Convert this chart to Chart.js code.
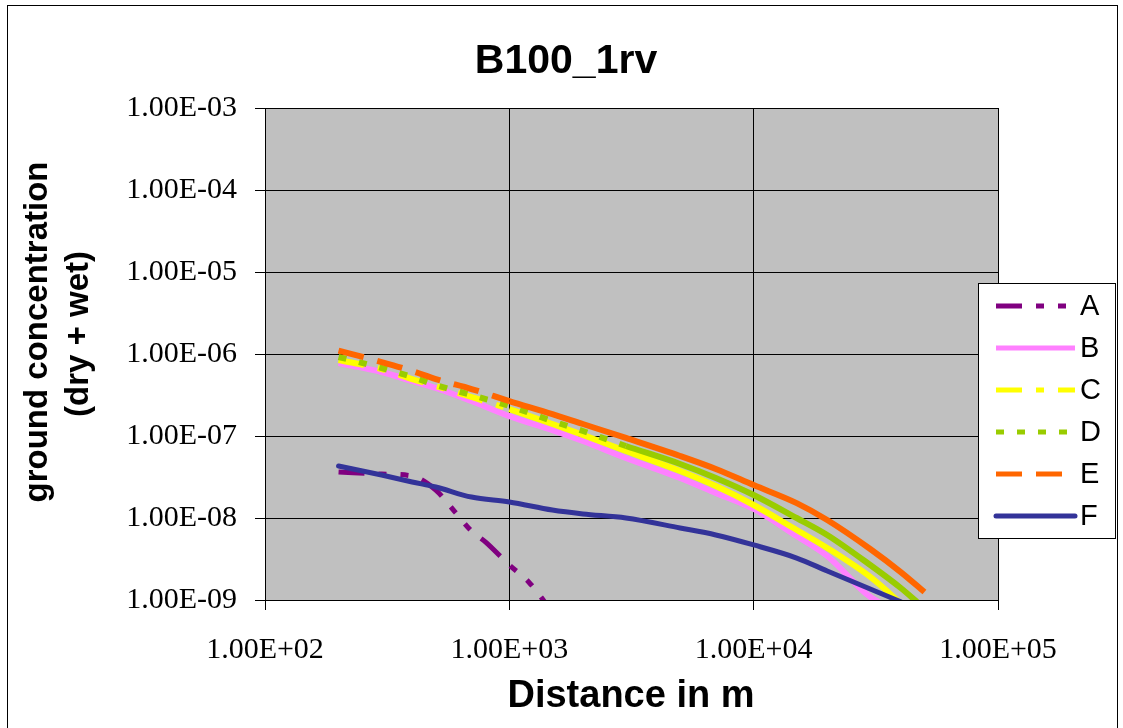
<!DOCTYPE html>
<html lang="en">
<head>
    <meta charset="UTF-8">
    <title>B100_1rv</title>
    <style>
        body {
            margin: 0;
            background: #ffffff;
        }
        canvas {
            display: block;
        }
    </style>
    <script src="https://cdn.jsdelivr.net/npm/chart.js"></script>
</head>
<body>

<canvas id="concChart" width="1123" height="728"></canvas>

<script>
    // distances (m)
    var distances = [200, 300, 400, 500, 700, 1000, 1500, 2000, 3000, 5000, 7000, 10000, 15000, 20000, 30000, 40000, 50000];
    var distancesA = [200, 300, 400, 500, 600, 700, 800, 1000, 1200, 1500];

    // ground concentration (dry + wet) per class
    var seriesA = [3.64e-8, 3.44e-8, 3.25e-8, 2.19e-8, 1.18e-8, 6.93e-9, 5.09e-9, 2.67e-9, 1.66e-9, 7.1e-10];
    var seriesB = [7.76e-7, 6.03e-7, 4.69e-7, 3.85e-7, 2.67e-7, 1.75e-7, 1.18e-7, 8.69e-8, 5.39e-8, 3.08e-8, 2.02e-8, 1.29e-8, 6.03e-9, 3.44e-9, 1.09e-9, 7.1e-10];
    var seriesC = [8.45e-7, 6.56e-7, 4.95e-7, 4.07e-7, 2.99e-7, 2.13e-7, 1.40e-7, 1.03e-7, 6.56e-8, 3.74e-8, 2.45e-8, 1.44e-8, 7.14e-9, 4.31e-9, 1.91e-9, 9.1e-10, 5.0e-10];
    var seriesD = [9.19e-7, 6.75e-7, 5.25e-7, 4.19e-7, 3.16e-7, 2.32e-7, 1.52e-7, 1.15e-7, 7.55e-8, 4.56e-8, 3.08e-8, 1.91e-8, 1.00e-8, 6.21e-9, 2.67e-9, 1.40e-9, 7.9e-10];
    var seriesE = [1.10e-6, 7.98e-7, 6.21e-7, 4.95e-7, 3.74e-7, 2.67e-7, 1.85e-7, 1.40e-7, 9.46e-8, 5.70e-8, 3.96e-8, 2.52e-8, 1.52e-8, 9.46e-9, 4.19e-9, 2.19e-9, 1.25e-9];
    var seriesF = [4.31e-8, 3.34e-8, 2.75e-8, 2.39e-8, 1.80e-8, 1.57e-8, 1.25e-8, 1.12e-8, 1.00e-8, 7.55e-9, 6.21e-9, 4.69e-9, 3.25e-9, 2.26e-9, 1.36e-9, 9.5e-10];

    var xTicks = [1e2, 1e3, 1e4, 1e5];
    var xTickLabels = ['1.00E+02', '1.00E+03', '1.00E+04', '1.00E+05'];
    var yTicks = [1e-9, 1e-8, 1e-7, 1e-6, 1e-5, 1e-4, 1e-3];
    var yTickLabels = ['1.00E-09', '1.00E-08', '1.00E-07', '1.00E-06', '1.00E-05', '1.00E-04', '1.00E-03'];

    function toPoints(xs, ys) {
        return ys.map(function (v, i) { return { x: xs[i], y: v }; });
    }

    // the dashes only show where the points are far apart, further out the line looks solid
    function makeSet(label, xs, ys, color, dash, dashUntil, width, order, cap) {
        return {
            label: label,
            data: toPoints(xs, ys),
            borderColor: color,
            backgroundColor: color,
            borderWidth: width,
            borderDash: dash,
            borderCapStyle: cap || 'butt',
            pointRadius: 0,
            cubicInterpolationMode: 'monotone',
            fill: false,
            clip: 0,
            order: order,
            segment: {
                borderDash: function (c) { return c.p0.parsed.x < dashUntil ? dash : []; }
            }
        };
    }

    var datasets = [
        makeSet('A', distancesA, seriesA, '#800080', [26, 14, 8, 14, 8, 14], 1e9, 5, 6),
        makeSet('B', distances, seriesB, '#FF80FF', [], 0, 6, 5),
        makeSet('C', distances, seriesC, '#FFFF00', [26, 14, 8, 14], 1000, 6, 4),
        makeSet('D', distances, seriesD, '#99CC00', [8, 13], 2500, 6, 3),
        makeSet('E', distances, seriesE, '#FF6600', [26, 14], 800, 6, 2),
        makeSet('F', distances, seriesF, '#333399', [], 0, 5, 1, 'round')
    ];

    // gray plot area, outer frame, titles and the boxed legend
    var decor = {
        id: 'decor',
        beforeDraw: function (chart) {
            var ctx = chart.ctx, a = chart.chartArea;
            ctx.save();
            ctx.fillStyle = '#ffffff';
            ctx.fillRect(0, 0, chart.width, chart.height);
            ctx.fillStyle = '#C0C0C0';
            ctx.fillRect(a.left, a.top, a.right - a.left, a.bottom - a.top);
            ctx.restore();
        },
        afterDraw: function (chart) {
            var ctx = chart.ctx;
            ctx.save();
            ctx.strokeStyle = '#000000';
            ctx.lineWidth = 1;
            ctx.strokeRect(7.5, 5.5, 1110, 730);

            ctx.fillStyle = '#000000';
            ctx.textAlign = 'center';
            ctx.textBaseline = 'alphabetic';
            ctx.font = 'bold 41px "Liberation Sans", Arial, sans-serif';
            ctx.fillText('B100_1rv', 566, 73);

            ctx.textBaseline = 'middle';
            ctx.font = 'bold 38px "Liberation Sans", Arial, sans-serif';
            ctx.fillText('Distance in m', 631, 697);

            ctx.save();
            ctx.translate(38, 332);
            ctx.rotate(-Math.PI / 2);
            ctx.font = 'bold 33px "Liberation Sans", Arial, sans-serif';
            ctx.fillText('ground concentration', 0, 0);
            ctx.restore();
            ctx.save();
            ctx.translate(79, 334);
            ctx.rotate(-Math.PI / 2);
            ctx.font = 'bold 33px "Liberation Sans", Arial, sans-serif';
            ctx.fillText('(dry + wet)', 0, 0);
            ctx.restore();

            // legend
            ctx.fillStyle = '#ffffff';
            ctx.fillRect(978.5, 283.5, 137, 255);
            ctx.strokeRect(978.5, 283.5, 137, 255);
            chart.data.datasets.forEach(function (ds, i) {
                var y = 306 + i * 42;
                ctx.save();
                ctx.strokeStyle = ds.borderColor;
                ctx.lineWidth = 5;
                ctx.lineCap = ds.borderCapStyle;
                ctx.setLineDash(ds.borderDash);
                ctx.beginPath();
                ctx.moveTo(996, y);
                ctx.lineTo(1075, y);
                ctx.stroke();
                ctx.restore();
                ctx.fillStyle = '#000000';
                ctx.textAlign = 'left';
                ctx.textBaseline = 'middle';
                ctx.font = '29px "Liberation Sans", Arial, sans-serif';
                ctx.fillText(ds.label, 1080, y + 1);
            });
            ctx.restore();
        }
    };

    var tickFont = { family: '"Liberation Serif", "Times New Roman", serif', size: 30 };

    var ctx = document.getElementById('concChart').getContext('2d');
    var concChart = new Chart(ctx, {
        type: 'line',
        data: { datasets: datasets },
        plugins: [decor],
        options: {
            responsive: false,
            animation: false,
            devicePixelRatio: 1,
            layout: { padding: { top: 108, right: 125, left: 0, bottom: 0 } },
            plugins: {
                legend: { display: false },
                tooltip: { enabled: false },
                title: { display: false }
            },
            scales: {
                x: {
                    type: 'logarithmic',
                    min: 1e2,
                    max: 1e5,
                    afterBuildTicks: function (scale) {
                        scale.ticks = xTicks.map(function (v) { return { value: v }; });
                    },
                    afterFit: function (scale) { scale.height = 128; },
                    ticks: {
                        color: '#000000',
                        font: tickFont,
                        padding: 22,
                        maxRotation: 0,
                        autoSkip: false,
                        callback: function (value, index) { return xTickLabels[index]; }
                    },
                    grid: { color: '#000000', lineWidth: 1, tickLength: 10, drawTicks: true },
                    border: { display: true, color: '#000000', width: 1 }
                },
                y: {
                    type: 'logarithmic',
                    min: 1e-9,
                    max: 1e-3,
                    afterBuildTicks: function (scale) {
                        scale.ticks = yTicks.map(function (v) { return { value: v }; });
                    },
                    afterFit: function (scale) { scale.width = 265; },
                    ticks: {
                        color: '#000000',
                        font: tickFont,
                        padding: 18,
                        autoSkip: false,
                        callback: function (value, index) { return yTickLabels[index]; }
                    },
                    grid: { color: '#000000', lineWidth: 1, tickLength: 10, drawTicks: true },
                    border: { display: true, color: '#000000', width: 1 }
                }
            }
        }
    });
</script>

</body>
</html>
